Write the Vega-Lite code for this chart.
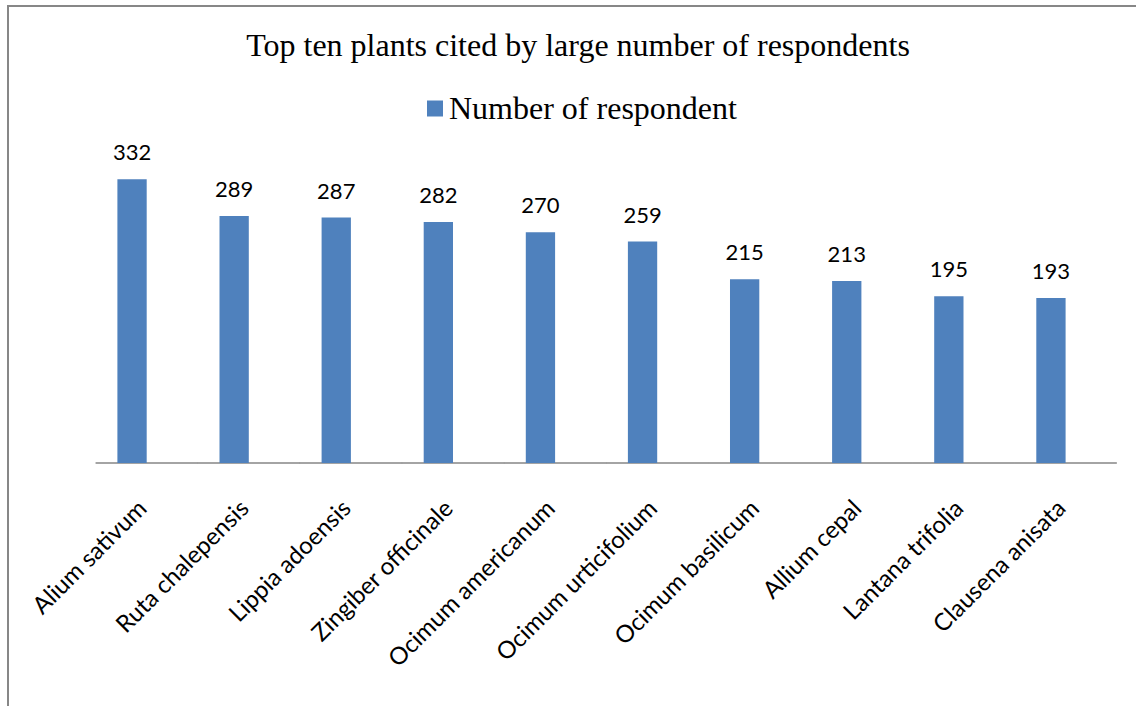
{
  "$schema": "https://vega.github.io/schema/vega-lite/v6.json",
  "autosize": "none",
  "padding": {"left": 8, "top": 6, "right": 0, "bottom": 0},
  "width": 1128,
  "height": 700,
  "background": "white",
  "title": {
    "text": "Top ten plants cited by large number of respondents",
    "font": "Liberation Serif",
    "fontSize": 32,
    "fontWeight": "normal",
    "color": "#000000",
    "anchor": "middle",
    "frame": "group",
    "baseline": "alphabetic",
    "offset": -82,
    "dx": 6
  },
  "data": {
    "values": [
      {"plant": "Alium sativum", "respondents": 332},
      {"plant": "Ruta chalepensis", "respondents": 289},
      {"plant": "Lippia adoensis", "respondents": 287},
      {"plant": "Zingiber officinale", "respondents": 282},
      {"plant": "Ocimum americanum", "respondents": 270},
      {"plant": "Ocimum urticifolium", "respondents": 259},
      {"plant": "Ocimum basilicum", "respondents": 215},
      {"plant": "Allium cepal", "respondents": 213},
      {"plant": "Lantana trifolia", "respondents": 195},
      {"plant": "Clausena anisata", "respondents": 193}
    ]
  },
  "encoding": {
    "x": {
      "field": "plant",
      "type": "nominal",
      "sort": null,
      "scale": {"paddingInner": 0, "paddingOuter": 0.524, "align": 0.8196},
      "axis": {
        "orient": "bottom",
        "offset": -243,
        "domain": false,
        "ticks": false,
        "grid": false,
        "title": null,
        "labelAngle": -45,
        "labelAlign": "right",
        "labelBaseline": "top",
        "labelPadding": 33,
        "labelOffset": -12,
        "labelFont": "Lato",
        "labelFontSize": 24,
        "labelColor": "#000000",
        "labelLimit": 0,
        "labelOverlap": false
      }
    }
  },
  "layer": [
    {
      "mark": {"type": "tick", "color": "#868686", "thickness": 1.6, "size": 102.4, "opacity": 1},
      "encoding": {
        "y": {"datum": 0, "type": "quantitative", "scale": {"domain": [-284.2, 534.5], "nice": false, "zero": false}, "axis": null}
      }
    },
    {
      "mark": {"type": "bar", "width": {"band": 0.287}, "xOffset": -14.7},
      "encoding": {
        "y": {"field": "respondents", "type": "quantitative", "scale": {"domain": [-284.2, 534.5], "nice": false, "zero": false}, "axis": null},
        "color": {
          "datum": "Number of respondent",
          "type": "nominal",
          "scale": {"range": ["#4F81BD"]},
          "legend": {
            "orient": "none",
            "legendX": 411,
            "legendY": 86.5,
            "title": null,
            "padding": 0,
            "symbolType": "square",
            "symbolSize": 256,
            "symbolStrokeWidth": 0,
            "labelFont": "Liberation Serif",
            "labelFontSize": 32,
            "labelColor": "#000000",
            "labelOffset": -2,
            "labelLimit": 0
          }
        }
      }
    },
    {
      "mark": {"type": "text", "dy": -19, "baseline": "alphabetic", "align": "center", "xOffset": -14.7, "font": "Lato", "fontSize": 22, "color": "#000000"},
      "encoding": {
        "y": {"field": "respondents", "type": "quantitative", "scale": {"domain": [-284.2, 534.5], "nice": false, "zero": false}, "axis": null},
        "text": {"field": "respondents", "type": "quantitative"}
      }
    }
  ],
  "config": {
    "view": {
      "stroke": "#878787",
      "strokeWidth": 2,
      "strokeDash": [1128, 1828, 700],
      "fill": "white"
    }
  }
}
